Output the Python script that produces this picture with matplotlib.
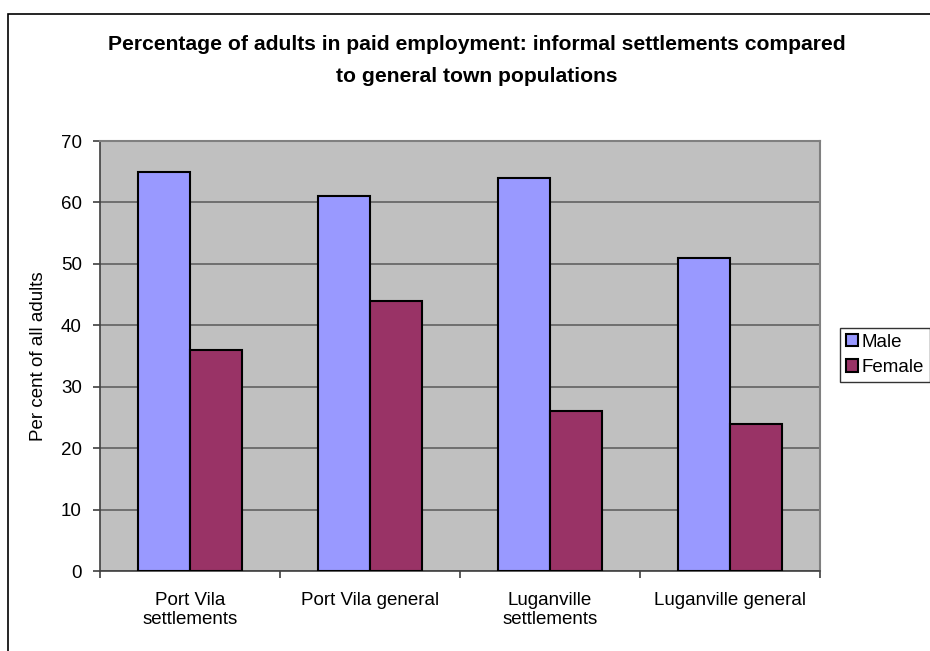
import matplotlib.pyplot as plt
import numpy as np
from matplotlib.patches import Rectangle

plt.rcParams['font.family'] = ['Liberation Sans', 'DejaVu Sans']

categories = ["Port Vila\nsettlements", "Port Vila general",
              "Luganville\nsettlements", "Luganville general"]
male = [65, 61, 64, 51]
female = [36, 44, 26, 24]
series_names = ["Male", "Female"]

fig = plt.figure(figsize=(9.3, 6.51), dpi=100)
ax = fig.add_axes([100/930, 80/651, 720/930, 430/651])

# outer chart frame (open at the bottom and right)
fig.patches.append(Rectangle((8/930, -0.1), 1.2, 1.1 - 14/651,
                             transform=fig.transFigure, fill=False,
                             edgecolor='black', linewidth=1.2))

x = np.arange(len(categories))
w = 52/180
ax.set_facecolor('#C0C0C0')
ax.bar(x - w/2, male, w, color='#9999FF', edgecolor='black', linewidth=1.5,
       label=series_names[0], zorder=3)
ax.bar(x + w/2, female, w, color='#993366', edgecolor='black', linewidth=1.5,
       label=series_names[1], zorder=3)

ax.set_xlim(-0.5, len(categories) - 0.5)
ax.set_ylim(0, 70)
ax.set_yticks(range(0, 71, 10))
ax.yaxis.grid(True, color='#606060', linewidth=1.2, zorder=0)
ax.set_axisbelow(True)

# group separators as major ticks, category names on minor ticks
ax.set_xticks(np.arange(len(categories) + 1) - 0.5)
ax.set_xticklabels([])
ax.set_xticks(x, minor=True)
ax.set_xticklabels(categories, minor=True, fontsize=13.5, linespacing=1.2)
ax.tick_params(axis='x', which='minor', length=0, pad=15)
ax.tick_params(axis='x', which='major', length=5, color='#404040', width=1.2)
ax.tick_params(axis='y', length=5, color='#404040', width=1.2,
               labelsize=13.5, pad=8)

for side in ['left', 'bottom']:
    ax.spines[side].set_color('#404040')
    ax.spines[side].set_linewidth(1.2)
for side in ['top', 'right']:
    ax.spines[side].set_color('#808080')
    ax.spines[side].set_linewidth(1.5)

ax.set_ylabel("Per cent of all adults", fontsize=13.5, labelpad=10)

fig.suptitle("Percentage of adults in paid employment: informal settlements compared\nto general town populations",
             x=477/930, y=1 - 35/651, fontsize=15.2, fontweight='bold',
             linespacing=1.9, va='top')

leg = fig.legend(loc='center left', bbox_to_anchor=(840/930, 1 - 355/651),
                 frameon=True, fancybox=False, edgecolor='black',
                 fontsize=13.5, handlelength=0.65, handleheight=0.65,
                 handletextpad=0.2, borderpad=0.3, labelspacing=0.45,
                 borderaxespad=0)
leg.get_frame().set_linewidth(1.0)

fig.savefig('out.png', dpi=100)
